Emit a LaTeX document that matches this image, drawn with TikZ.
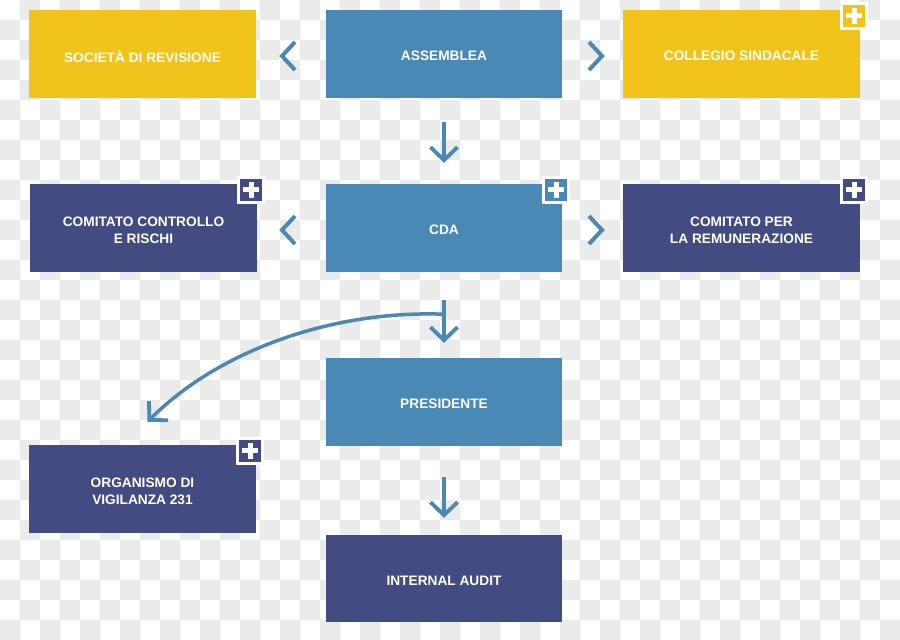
\documentclass[tikz,border=0pt]{standalone}
\usepackage{fontspec}
\setmainfont{Liberation Sans}
\usetikzlibrary{arrows.meta}
\definecolor{yel}{RGB}{242,195,26}
\definecolor{blu}{RGB}{74,137,181}
\definecolor{dkb}{RGB}{66,76,130}
\definecolor{chk}{RGB}{235,235,235}
\tikzset{
  box/.style={minimum height=88pt, inner sep=0pt},
  lbl/.style={yshift=-2pt, inner sep=0pt, text=white, align=center,
    font=\fontsize{13.7pt}{17pt}\selectfont\bfseries},
  txt/.style={label={[lbl]center:{#1}}},
  plusbox/.style={minimum size=25pt, inner sep=0pt, draw=white, line width=2.5pt,
    path picture={\draw[white,line width=5pt]
      ([xshift=-8pt]path picture bounding box.center) -- ([xshift=8pt]path picture bounding box.center)
      ([yshift=-8pt]path picture bounding box.center) -- ([yshift=8pt]path picture bounding box.center);}},
  arr/.style={draw=blu, line width=3.5pt,
    -{Straight Barb[length=13pt,width=27pt,line width=3.8pt]}},
  chev/.style={draw=blu, line width=4pt},
}
\newcommand\plusmark[2]{\node[plusbox, fill=#2] at ([shift={(-6,6)}]#1.north east) {};}
\begin{document}
\begin{tikzpicture}[x=1pt,y=-1pt]
\useasboundingbox (0,0) rectangle (900,640);
\fill[white] (0,0) rectangle (900,640);
\foreach \j in {0,2,...,30} \foreach \i in {1,3,...,43} \fill[chk] (\i*20,\j*20) rectangle ++(20,20);
\foreach \j in {1,3,...,31} \foreach \i in {0,2,...,44} \fill[chk] (\i*20,\j*20) rectangle ++(20,20);

\node[box, fill=yel, minimum width=227pt, txt={SOCIETÀ DI REVISIONE}] (soc) at (142.5,54) {};
\node[box, fill=blu, minimum width=236pt, txt={ASSEMBLEA}] (ass) at (444,54) {};
\node[box, fill=yel, minimum width=237pt, txt={COLLEGIO SINDACALE}] (col) at (741.5,54) {};
\node[box, fill=dkb, minimum width=227pt, txt={COMITATO CONTROLLO\\E RISCHI}] (ccr) at (143.5,228) {};
\node[box, fill=blu, minimum width=236pt, txt={CDA}] (cda) at (444,228) {};
\node[box, fill=dkb, minimum width=237pt, txt={COMITATO PER\\LA REMUNERAZIONE}] (cpr) at (741.5,228) {};
\node[box, fill=blu, minimum width=236pt, txt={PRESIDENTE}] (pres) at (444,402) {};
\node[box, fill=dkb, minimum width=227pt, txt={ORGANISMO DI\\VIGILANZA 231}] (org) at (142.5,489) {};
\node[box, fill=dkb, minimum width=236pt, minimum height=87pt, txt={INTERNAL AUDIT}] (ia) at (444,578.5) {};

\plusmark{col}{yel}
\plusmark{ccr}{dkb}
\plusmark{cda}{blu}
\plusmark{cpr}{dkb}
\plusmark{org}{dkb}

% chevrons
\draw[chev] (295,42) -- (282,56) -- (295,70);
\draw[chev] (589,42) -- (602,56) -- (589,70);
\draw[chev] (295,216) -- (282,230) -- (295,244);
\draw[chev] (589,216) -- (602,230) -- (589,244);

% arrows
\draw[arr] ([yshift=-24pt]ass.south) -- ([yshift=21pt]cda.north);
\draw[arr] ([yshift=-28pt]cda.south) -- ([yshift=15pt]pres.north);
\draw[arr] ([yshift=-31pt]pres.south) -- ([yshift=17pt]ia.north);
\coordinate (br) at ([yshift=-42pt]cda.south);
\coordinate (ot) at ([shift={(5,-23)}]org.north);
\draw[arr] (br) .. controls (330,310) and (217,352) .. (ot);
\end{tikzpicture}
\end{document}
